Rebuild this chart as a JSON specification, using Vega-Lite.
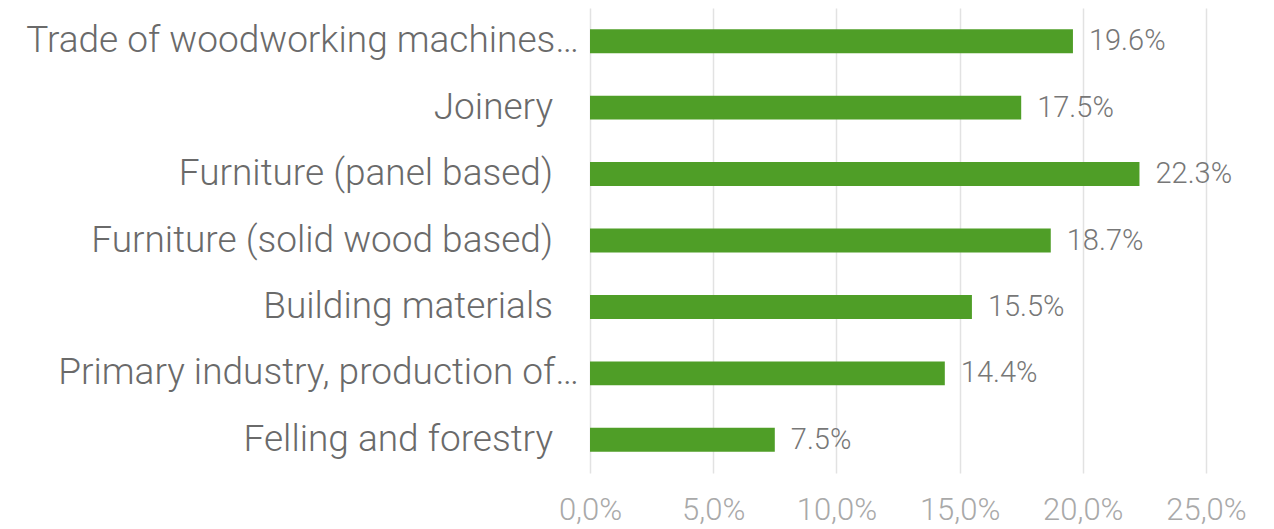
{
  "$schema": "https://vega.github.io/schema/vega-lite/v6.json",
  "autosize": {"type": "none"},
  "padding": {"left": 590, "top": 8, "right": 68, "bottom": 56},
  "width": 616,
  "height": 465,
  "background": "white",
  "config": {"view": {"stroke": null}, "font": "Roboto"},
  "data": {
    "values": [
      {"category": "Trade of woodworking machines…", "share": 0.196},
      {"category": "Joinery", "share": 0.175},
      {"category": "Furniture (panel based)", "share": 0.223},
      {"category": "Furniture (solid wood based)", "share": 0.187},
      {"category": "Building materials", "share": 0.155},
      {"category": "Primary industry, production of…", "share": 0.144},
      {"category": "Felling and forestry", "share": 0.075}
    ]
  },
  "encoding": {
    "y": {
      "field": "category",
      "type": "nominal",
      "sort": null,
      "scale": {"paddingInner": 0.64, "paddingOuter": 0.32},
      "axis": null
    },
    "x": {
      "field": "share",
      "type": "quantitative",
      "scale": {"domain": [0, 0.25], "nice": false},
      "axis": {
        "title": null,
        "values": [0, 0.05, 0.1, 0.15, 0.2, 0.25],
        "labelExpr": "replace(format(datum.value, '.1%'), '.', ',')",
        "labelFlush": false,
        "domain": false,
        "ticks": false,
        "grid": true,
        "gridColor": "#e2e2e2",
        "gridWidth": 1.5,
        "labelFontSize": 31,
        "labelFont": "Roboto",
        "labelFontWeight": 300,
        "labelColor": "#a9a9a9",
        "labelPadding": 22
      }
    }
  },
  "layer": [
    {"mark": {"type": "bar", "color": "#4f9e27"}},
    {
      "mark": {"type": "text", "align": "left", "baseline": "middle", "dx": 16, "font": "Roboto", "fontWeight": 300, "fontSize": 29, "color": "#777777"},
      "encoding": {"text": {"field": "share", "type": "quantitative", "format": ".1%"}}
    },
    {
      "transform": [{"filter": "indexof(datum.category, '…') < 0"}],
      "mark": {"type": "text", "align": "right", "baseline": "middle", "dx": -37, "font": "Roboto", "fontWeight": 300, "fontSize": 37, "color": "#6a6a6a"},
      "encoding": {"x": {"datum": 0, "type": "quantitative"}, "text": {"field": "category"}}
    },
    {
      "transform": [{"filter": "indexof(datum.category, '…') >= 0"}],
      "mark": {"type": "text", "align": "right", "baseline": "middle", "dx": -11, "font": "Roboto", "fontWeight": 300, "fontSize": 37, "color": "#6a6a6a"},
      "encoding": {"x": {"datum": 0, "type": "quantitative"}, "text": {"field": "category"}}
    }
  ]
}
